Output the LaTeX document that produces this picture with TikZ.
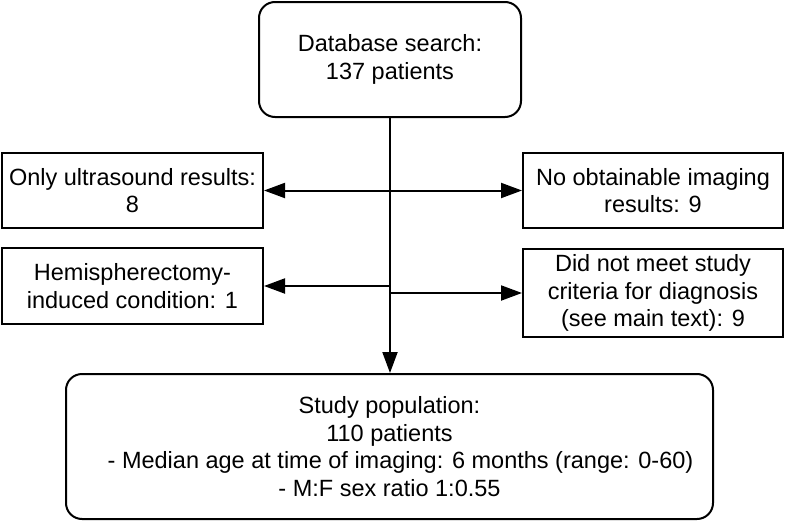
\documentclass[tikz,border=0pt]{standalone}
\usepackage{fontspec}
\setmainfont{Liberation Sans}
\usetikzlibrary{arrows.meta}
\begin{document}
\begin{tikzpicture}[x=1pt,y=-1pt,
  box/.style={draw,line width=2pt,inner sep=0pt,align=center,
    font=\fontsize{23.5}{27.5}\selectfont},
  rbox/.style={box,rounded corners=16pt},
  conn/.style={line width=2pt,-{Triangle[length=21pt,width=15pt]}}]
\useasboundingbox (0,0) rectangle (785,522);
\node[rbox,minimum width=262pt,minimum height=115pt] (top) at (390,59.5) {Database search:\\137 patients};
\node[box,minimum width=261pt,minimum height=75pt] (l1) at (132.5,190.5) {Only ultrasound results:\\8};
\node[box,minimum width=261pt,minimum height=76pt] (l2) at (132.5,286) {Hemispherectomy-\\induced condition: 1};
\node[box,minimum width=260pt,minimum height=75pt] (r1) at (653,190.5) {No obtainable imaging\\results: 9};
\node[box,minimum width=260pt,minimum height=88pt] (r2) at (653,293) {Did not meet study\\criteria for diagnosis\\(see main text): 9};
\node[rbox,minimum width=647pt,minimum height=145pt] (bot) at (389.5,446.5) {Study population:\\110 patients\\\hspace*{22pt}- Median age at time of imaging: 6 months (range: 0-60)\\- M:F sex ratio 1:0.55};
\draw[conn] (top.south) -- (top.south |- bot.north);
\draw[conn] (top.south |- l1.east) -- (l1.east);
\draw[conn] (top.south |- l2.east) -- (l2.east);
\draw[conn] (top.south |- r1.west) -- (r1.west);
\draw[conn] (top.south |- r2.west) -- (r2.west);
\end{tikzpicture}
\end{document}
